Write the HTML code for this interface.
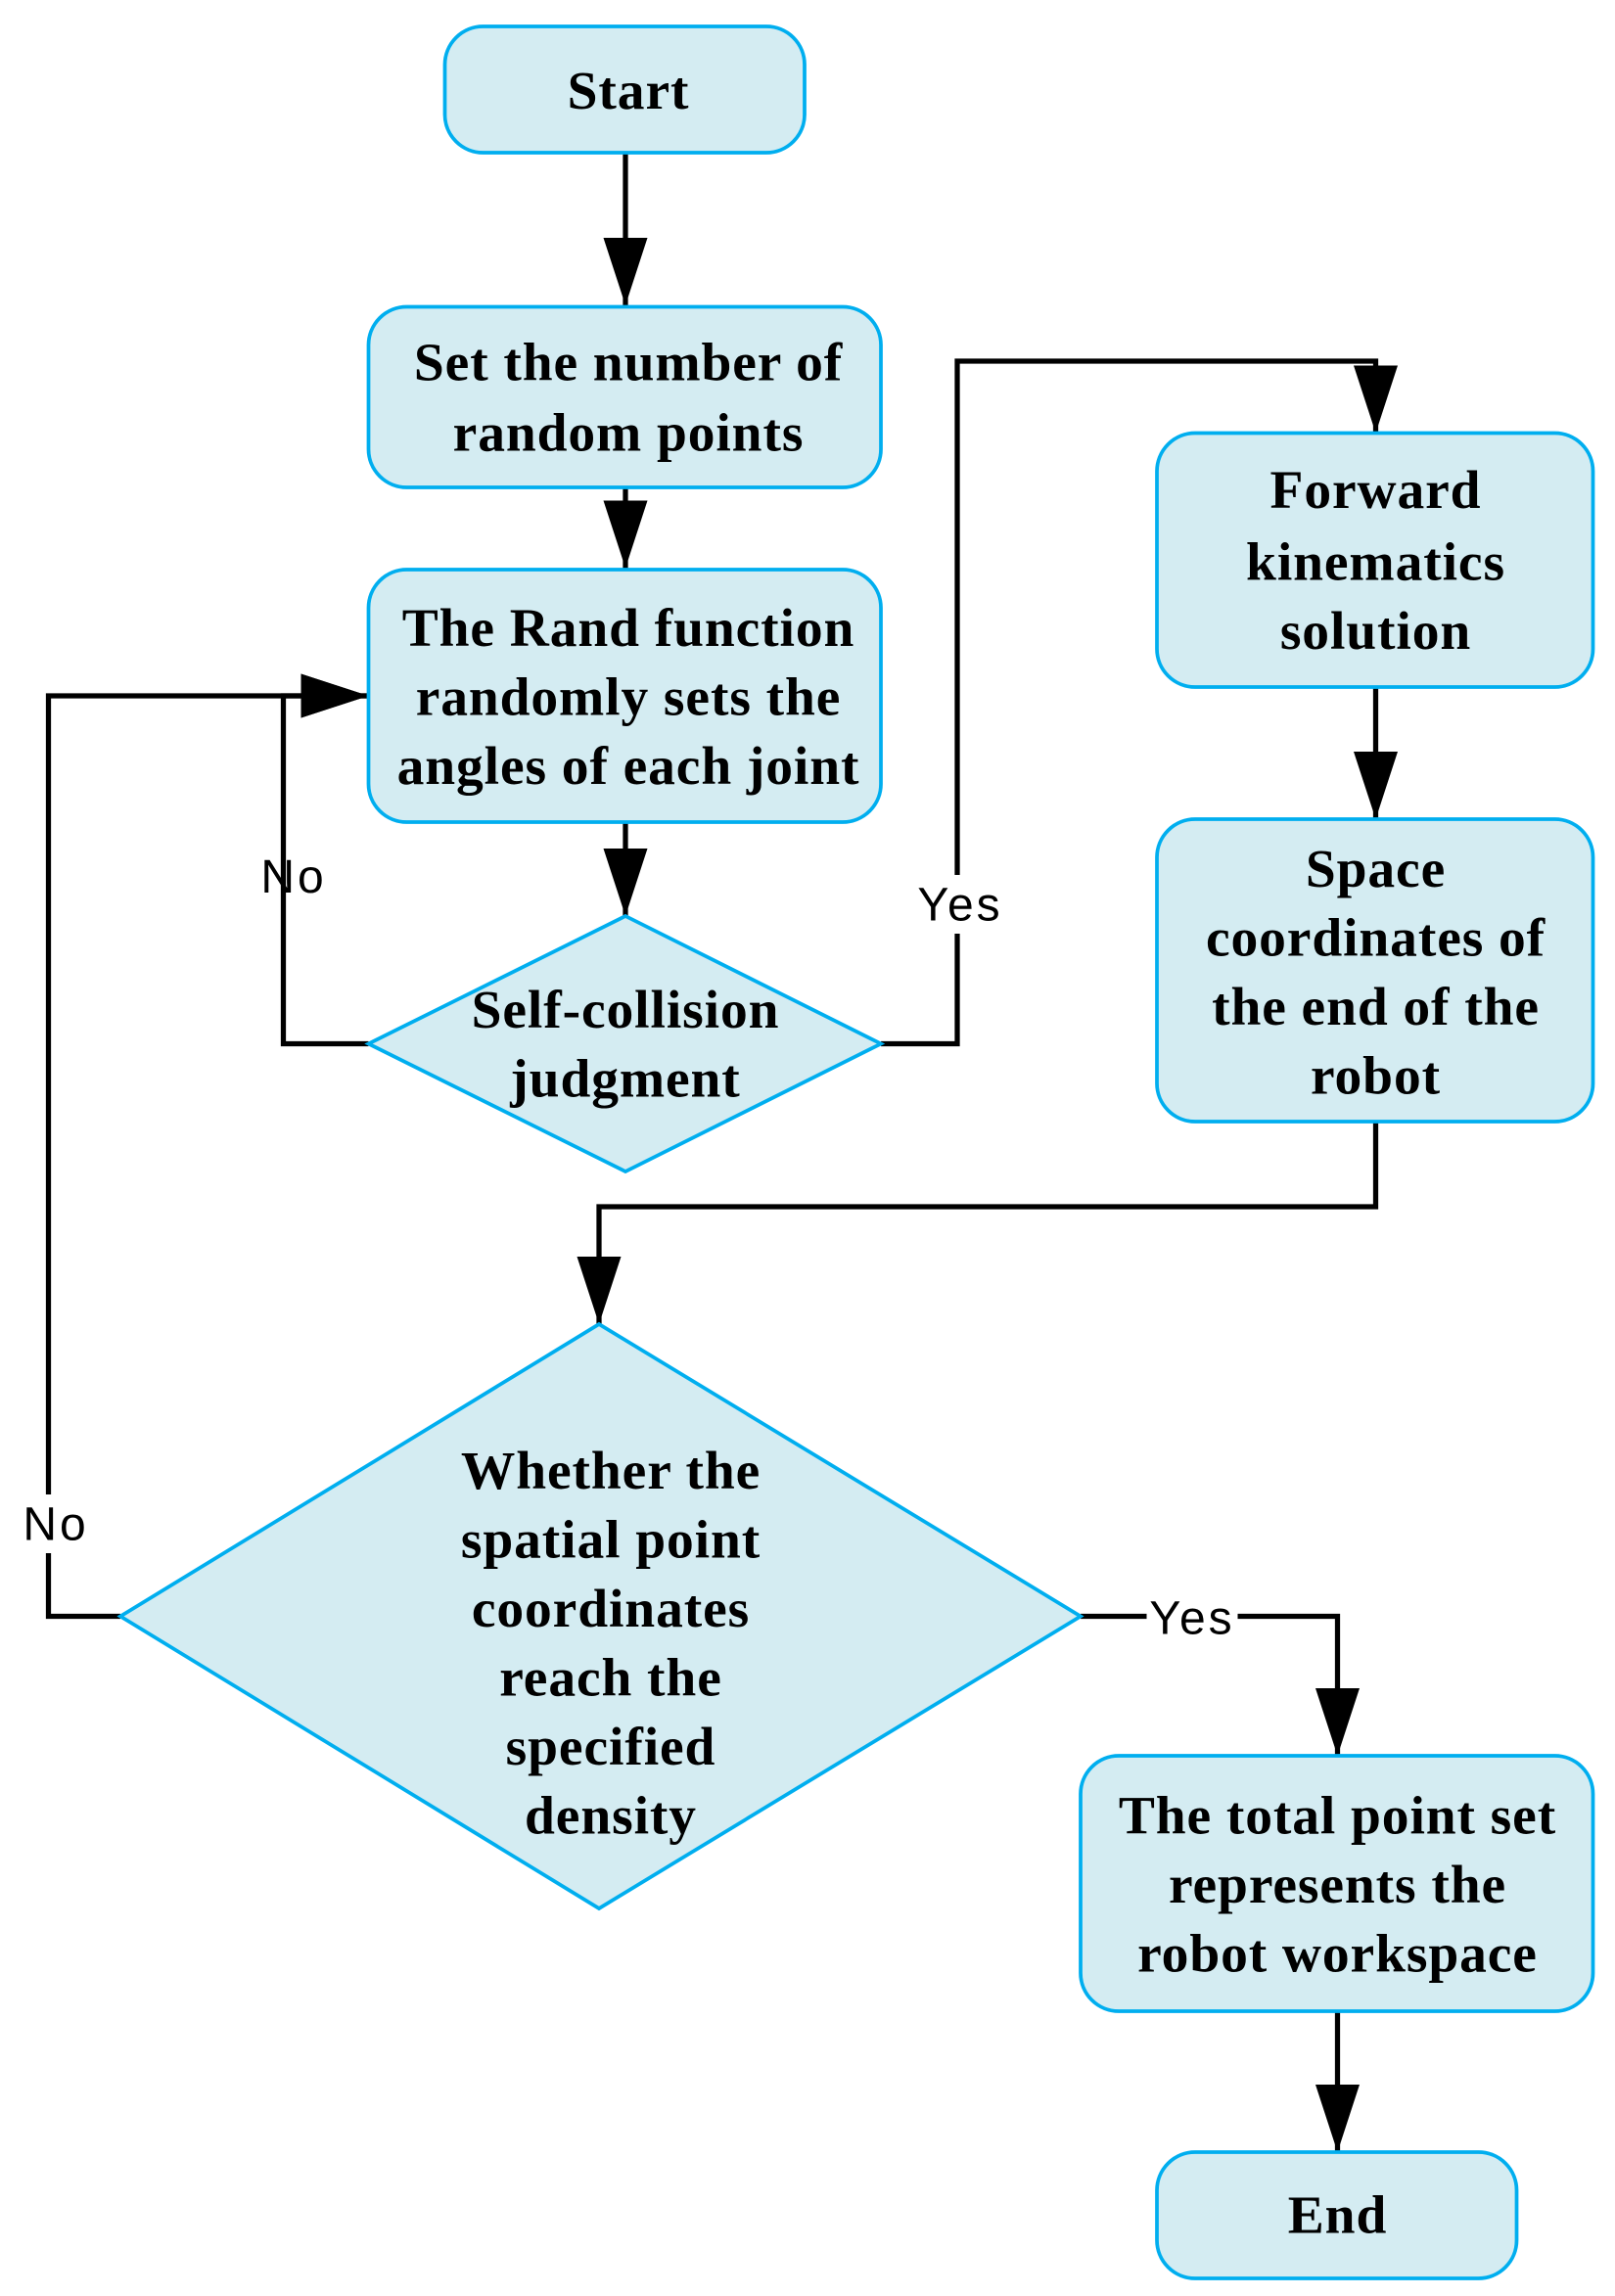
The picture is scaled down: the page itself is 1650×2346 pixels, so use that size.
<!DOCTYPE html>
<html><head><meta charset="utf-8"><style>
html,body{margin:0;padding:0;background:#fff;}
svg{display:block;}
.b{font-family:"Liberation Serif",serif;font-weight:bold;font-size:37px;fill:#000;text-anchor:middle;letter-spacing:0.6px;}
.l{font-family:"Liberation Sans",sans-serif;font-size:32px;fill:#000;text-anchor:middle;letter-spacing:2px;}
.n{fill:#d4ecf2;stroke:#00aeef;stroke-width:2.5;}
.c{fill:none;stroke:#000;stroke-width:3.5;}
</style></head><body>
<svg width="1650" height="2346" viewBox="0 0 1100 1564" xmlns="http://www.w3.org/2000/svg">
<defs>
<marker id="a" markerUnits="userSpaceOnUse" markerWidth="46" markerHeight="30" refX="46" refY="15" orient="auto" viewBox="0 0 46 30">
<path d="M0,0 L46,15 L0,30 Z" fill="#000"/></marker>
</defs>
<path class="c" d="M426,104 V208" marker-end="url(#a)"/>
<path class="c" d="M426,332 V387" marker-end="url(#a)"/>
<path class="c" d="M426,560 V624" marker-end="url(#a)"/>
<path class="c" d="M251,711 H193 V474 H251" marker-end="url(#a)"/>
<path class="c" d="M600,711 H652 V246 H937 V295" marker-end="url(#a)"/>
<path class="c" d="M937,468 V558" marker-end="url(#a)"/>
<path class="c" d="M937,764 V822 H408 V902" marker-end="url(#a)"/>
<path class="c" d="M82,1101 H33 V474 H251" marker-end="url(#a)"/>
<path class="c" d="M736,1101 H911 V1196" marker-end="url(#a)"/>
<path class="c" d="M911,1370 V1466" marker-end="url(#a)"/>
<rect class="n" x="303" y="18" width="245" height="86" rx="26"/>
<rect class="n" x="251" y="209" width="349" height="123" rx="26"/>
<rect class="n" x="251" y="388" width="349" height="172" rx="26"/>
<polygon class="n" points="426,624 600,711 426,798 251,711"/>
<rect class="n" x="788" y="295" width="297" height="173" rx="26"/>
<rect class="n" x="788" y="558" width="297" height="206" rx="26"/>
<polygon class="n" points="408,902 736,1101 408,1300 82,1101"/>
<rect class="n" x="736" y="1196" width="349" height="174" rx="26"/>
<rect class="n" x="788" y="1466" width="245" height="86" rx="26"/>
<text class="b" x="428" y="74">Start</text>
<text class="b" x="428" y="259">Set the number of</text>
<text class="b" x="428" y="307">random points</text>
<text class="b" x="428" y="440">The Rand function</text>
<text class="b" x="428" y="487">randomly sets the</text>
<text class="b" x="428" y="534">angles of each joint</text>
<text class="b" x="426" y="700">Self-collision</text>
<text class="b" x="426" y="747">judgment</text>
<text class="b" x="937" y="346">Forward</text>
<text class="b" x="937" y="395">kinematics</text>
<text class="b" x="937" y="442">solution</text>
<text class="b" x="937" y="604">Space</text>
<text class="b" x="937" y="651">coordinates of</text>
<text class="b" x="937" y="698">the end of the</text>
<text class="b" x="937" y="745">robot</text>
<text class="b" x="416" y="1014">Whether the</text>
<text class="b" x="416" y="1061">spatial point</text>
<text class="b" x="416" y="1108">coordinates</text>
<text class="b" x="416" y="1155">reach the</text>
<text class="b" x="416" y="1202">specified</text>
<text class="b" x="416" y="1249">density</text>
<text class="b" x="911" y="1249">The total point set</text>
<text class="b" x="911" y="1296">represents the</text>
<text class="b" x="911" y="1343">robot workspace</text>
<text class="b" x="911" y="1521">End</text>
<text class="l" x="200" y="608">No</text>
<rect x="624" y="596" width="60" height="40" fill="#fff"/>
<text class="l" x="654" y="627">Yes</text>
<rect x="14" y="1018" width="48" height="40" fill="#fff"/>
<text class="l" x="38" y="1049">No</text>
<rect x="781" y="1083" width="62" height="38" fill="#fff"/>
<text class="l" x="812" y="1113">Yes</text>
</svg>
</body></html>
